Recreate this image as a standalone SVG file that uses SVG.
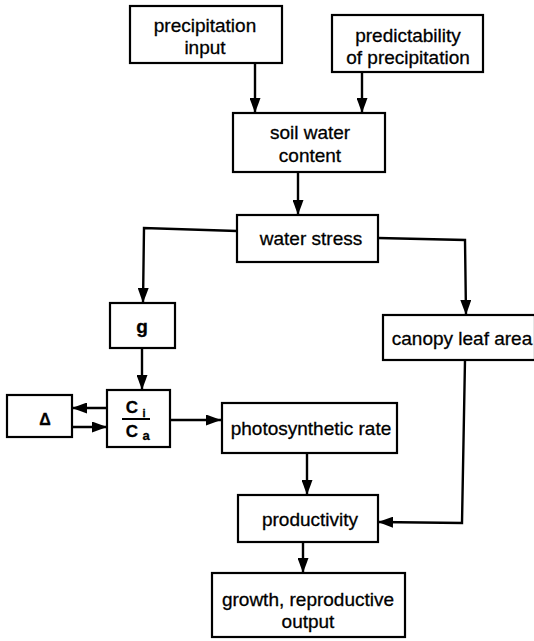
<svg xmlns="http://www.w3.org/2000/svg" width="534" height="641" viewBox="0 0 534 641">
<defs>
<marker id="ah" viewBox="0 0 15 11" refX="15" refY="5.5" markerWidth="15" markerHeight="11" orient="auto" markerUnits="userSpaceOnUse">
<path d="M0,0 L15,5.5 L0,11 z" fill="#000"/>
</marker>
<style>
.box{fill:#fff;stroke:#000;stroke-width:2.2}
.t{font-family:"Liberation Sans",Arial,sans-serif;font-size:19px;fill:#000;stroke:#000;stroke-width:0.3;text-anchor:middle}
.c{fill:none;stroke:#000;stroke-width:2.4}
.a{marker-end:url(#ah)}
</style>
</defs>
<rect width="534" height="641" fill="#fff"/>
<g id="connectors">
<line class="c a" x1="255" y1="63" x2="255" y2="113"/>
<line class="c a" x1="362" y1="72" x2="362" y2="113"/>
<line class="c a" x1="298" y1="172" x2="298" y2="215"/>
<polyline class="c a" points="237,231 144,228 143,303"/>
<polyline class="c a" points="378,238 465,240 466,315"/>
<line class="c a" x1="142" y1="348" x2="142" y2="390"/>
<line class="c a" x1="107" y1="408" x2="72" y2="408"/>
<line class="c a" x1="72" y1="427" x2="107" y2="427"/>
<line class="c a" x1="170" y1="420" x2="221" y2="420"/>
<line class="c a" x1="307" y1="453" x2="307" y2="495"/>
<polyline class="c a" points="465,360 462,523 378,522"/>
<line class="c a" x1="303" y1="542" x2="303" y2="573"/>
</g>
<g id="precipitation-input">
<rect class="box" x="130" y="6" width="152" height="57"/>
<text class="t" x="205" y="32">precipitation</text>
<text class="t" x="205" y="54">input</text>
</g>
<g id="predictability">
<rect class="box" x="332" y="15" width="151" height="57"/>
<text class="t" x="408" y="42">predictability</text>
<text class="t" x="408" y="64">of precipitation</text>
</g>
<g id="soil-water-content">
<rect class="box" x="233" y="113" width="152" height="59"/>
<text class="t" x="310" y="139">soil water</text>
<text class="t" x="310" y="162">content</text>
</g>
<g id="water-stress">
<rect class="box" x="237" y="215" width="141" height="47"/>
<text class="t" x="311" y="245">water stress</text>
</g>
<g id="g">
<rect class="box" x="110" y="303" width="65" height="45"/>
<text class="t" x="142" y="333" style="font-weight:bold">g</text>
</g>
<g id="canopy-leaf-area">
<rect class="box" x="383" y="315" width="152" height="45"/>
<text class="t" x="462" y="345">canopy leaf area</text>
</g>
<g id="delta">
<rect class="box" x="7" y="395" width="65" height="42"/>
<text class="t" x="45" y="425" style="font-size:16px;font-weight:bold">Δ</text>
</g>
<g id="ci-ca">
<rect class="box" x="107" y="390" width="63" height="57"/>
<text class="t" x="132" y="413" style="font-size:17px;font-weight:bold">C</text>
<text class="t" x="144" y="417" style="font-size:11px;font-weight:bold">i</text>
<line x1="122" y1="419" x2="150" y2="419" stroke="#000" stroke-width="2"/>
<text class="t" x="132" y="437" style="font-size:17px;font-weight:bold">C</text>
<text class="t" x="146" y="440" style="font-size:13px;font-weight:bold">a</text>
</g>
<g id="photosynthetic-rate">
<rect class="box" x="222" y="403" width="175" height="50"/>
<text class="t" x="311" y="435">photosynthetic rate</text>
</g>
<g id="productivity">
<rect class="box" x="238" y="495" width="140" height="47"/>
<text class="t" x="310" y="526">productivity</text>
</g>
<g id="growth">
<rect class="box" x="212" y="573" width="193" height="64"/>
<text class="t" x="308" y="606">growth, reproductive</text>
<text class="t" x="308" y="628">output</text>
</g>
</svg>
